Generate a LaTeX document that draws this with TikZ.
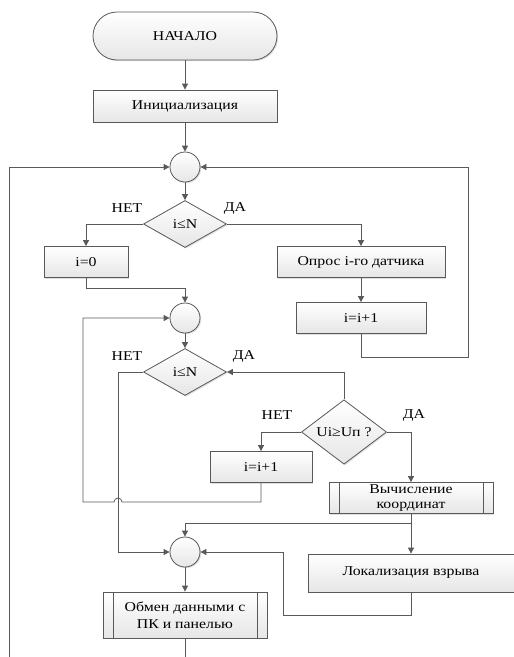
\documentclass[tikz,border=0pt]{standalone}
\usepackage{fontspec}
\setmainfont{Liberation Serif}[FakeStretch=1.17]
\usetikzlibrary{shapes.geometric,arrows.meta,shadows}
\definecolor{lc}{HTML}{595959}
\definecolor{bf}{HTML}{E6E6E6}
\tikzset{
  ln/.style={draw=lc, line width=0.8pt},
  arr/.style={ln, -{Triangle[length=6pt,width=6pt]}},
  txt/.style={font=\fontsize{13.5}{14}\selectfont, text=black},
  shad/.style={drop shadow={opacity=0.25, shadow xshift=1.2pt, shadow yshift=-1.2pt}},
  boxst/.style={rectangle, draw=lc, line width=0.8pt, top color=white, bottom color=bf, inner sep=0pt, txt, shad, align=center},
  term/.style={boxst, rounded corners=24pt, minimum width=184pt, minimum height=48pt},
  conn/.style={circle, draw=lc, line width=0.8pt, top color=white, bottom color=bf, minimum size=30pt, inner sep=0pt, shad},
  dec/.style={diamond, draw=lc, line width=0.8pt, top color=white, bottom color=bf, inner sep=0pt, txt, shad},
  subr/.style={boxst, path picture={
     \draw[lc, line width=0.8pt] ([xshift=10pt]path picture bounding box.north west) -- ([xshift=10pt]path picture bounding box.south west);
     \draw[lc, line width=0.8pt] ([xshift=-10pt]path picture bounding box.north east) -- ([xshift=-10pt]path picture bounding box.south east);}},
  lbl/.style={txt, inner sep=0pt}
}
\begin{document}
\begin{tikzpicture}[x=1pt, y=-1pt]
\useasboundingbox (0,0) rectangle (514,657);
% nodes
\node[term] (start) at (185,36) {НАЧАЛО};
\node[boxst, minimum width=184pt, minimum height=32pt] (init) at (185,106) {Инициализация};
\node[conn] (c1) at (185,167) {};
\node[dec, minimum width=83pt, minimum height=47pt] (d1) at (185,224) {i≤N};
\node[lbl] (no1) at (127,208) {НЕТ};
\node[lbl] (yes1) at (235,208) {ДА};
\node[boxst, minimum width=84pt, minimum height=31pt] (b0) at (86,262) {i=0};
\node[boxst, minimum width=168pt, minimum height=31pt] (opros) at (361,262) {Опрос i-го датчика};
\node[boxst, minimum width=130pt, minimum height=31pt] (inc1) at (361,318) {i=i+1};
\node[conn] (c2) at (185,318) {};
\node[dec, minimum width=83pt, minimum height=47pt] (d2) at (185,372) {i≤N};
\node[lbl] (no2) at (127,356) {НЕТ};
\node[lbl] (yes2) at (244,356) {ДА};
\node[dec, minimum width=85pt, minimum height=47pt] (d3) at (344,432) {Ui≥Uп ?};
\node[lbl] (no3) at (277,415) {НЕТ};
\node[lbl] (yes3) at (414,415) {ДА};
\node[boxst, minimum width=102pt, minimum height=31pt] (inc2) at (261,467) {i=i+1};
\node[subr, minimum width=164pt, minimum height=31pt, font=\fontsize{13.5}{15.5}\selectfont] (vych) at (411,498) {Вычисление\\координат};
\node[conn] (c3) at (185,552) {};
\node[boxst, minimum width=206pt, minimum height=38pt] (loc) at (411,573) {Локализация взрыва};
\node[subr, minimum width=164pt, minimum height=46pt, font=\fontsize{13.5}{17}\selectfont] (obmen) at (185,615) {Обмен данными с\\ПК и панелью};
% coordinates
\coordinate (r1) at (468,357);
\coordinate (j1) at (185,288);
\coordinate (h1) at (118,552);
\coordinate (l2) at (83,502);
\coordinate (j2) at (411,523);
\coordinate (r3) at (283,615);
\coordinate (bot) at (185,657);
\coordinate (bl) at (9,657);
% connectors
\draw[arr] (start) -- (init);
\draw[arr] (init) -- (c1);
\draw[arr] (c1) -- (d1);
\draw[arr] (d1.west) -| (b0.north);
\draw[arr] (d1.east) -| (opros.north);
\draw[arr] (opros) -- (inc1);
\draw[arr] (inc1.south) |- (r1) |- (c1.east);
\draw[arr] (b0.south) |- (j1) -- (c2.north);
\draw[arr] (c2) -- (d2);
\draw[arr] (d2.west) -| (h1) -- (c3.west);
\draw[arr] (inc2.south) |- (122,502) arc[start angle=0, end angle=180, radius=4pt] -- (l2) |- (c2.west);
\draw[arr] (d3.north) |- (d2.east);
\draw[arr] (d3.west) -| (inc2.north);
\draw[arr] (d3.east) -| (vych.north);
\draw[ln] (vych.south) -- (j2);
\draw[arr] (j2) -- (loc.north);
\draw[arr] (j2) -| (c3.north);
\draw[arr] (loc.south) |- (r3) |- (c3.east);
\draw[arr] (c3) -- (obmen);
\draw[ln] (obmen.south) -- (bot);
\draw[arr] (bl) |- (c1.west);
\end{tikzpicture}
\end{document}
